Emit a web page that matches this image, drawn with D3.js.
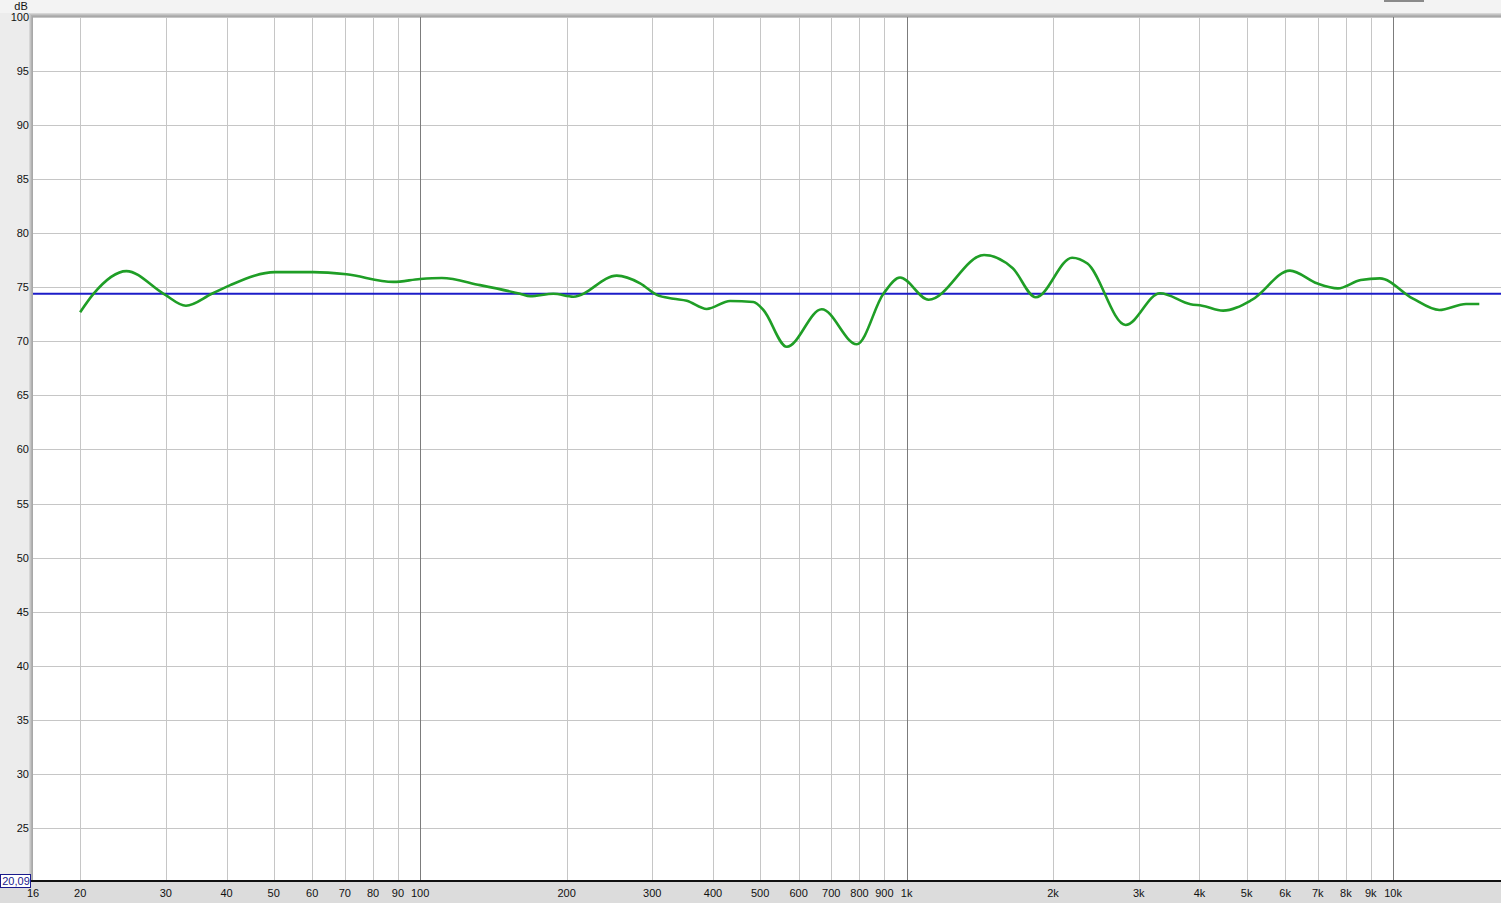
<!DOCTYPE html>
<html>
<head>
<meta charset="utf-8">
<script src="https://cdn.jsdelivr.net/npm/d3@7"></script>
<style>
  body { margin: 0; background: #ededed; }
  svg { display: block; font-family: "Liberation Sans", Arial, sans-serif; }
</style>
</head>
<body>
<div id="chart-area"></div>
<script>
// frequency response (Hz, dB)
var freqs = [20, 21.3, 24.9, 29.7, 33.0, 37.3, 40.7, 50.3, 60.3, 70.6, 88.1, 100, 110.8,
  132.8, 160.5, 168.3, 187.9, 206.5, 253.6, 283.3, 306.5, 331.6, 353.3, 388.3, 433.7,
  484.2, 507.7, 567.3, 669.2, 790, 896, 969.6, 1110, 1443, 1653, 1843, 2189, 2354,
  2820, 3318, 3835, 4050, 4473, 5125, 6139, 6971, 7702, 8583, 9394, 10965, 12446,
  14127, 15043];
var levels = [72.7, 74.4, 76.5, 74.4, 73.3, 74.4, 75.2, 76.4, 76.4, 76.2, 75.5, 75.77, 75.86,
  75.2, 74.4, 74.17, 74.4, 74.13, 76.08, 75.37, 74.3, 73.95, 73.76, 73.0, 73.74,
  73.64, 72.9, 69.5, 72.97, 69.73, 74.4, 75.9, 73.85, 77.99, 76.76, 74.08, 77.74, 77.2,
  71.52, 74.45, 73.43, 73.3, 72.84, 73.83, 76.54, 75.37, 74.9, 75.68, 75.83, 73.98, 72.9,
  73.46, 73.46];
var targetLevel = 74.4;

var dbTicks = [100, 95, 90, 85, 80, 75, 70, 65, 60, 55, 50, 45, 40, 35, 30, 25];
var freqTicks = [16, 20, 30, 40, 50, 60, 70, 80, 90, 100, 200, 300, 400, 500, 600, 700,
  800, 900, 1000, 2000, 3000, 4000, 5000, 6000, 7000, 8000, 9000, 10000];
var decadeTicks = [100, 1000, 10000];
var bottomValue = "20,09";

var width = 1501, height = 903;
var plotL = 33, plotT = 17, plotB = 881, plotR = 1501;

var svg = d3.select("#chart-area").append("svg")
  .attr("width", width)
  .attr("height", height);

var x = d3.scaleLog().domain([16, 16670]).range([plotL, plotR]);
var y = d3.scaleLinear().domain([20.09, 100]).range([plotB, plotT]);

// backgrounds
svg.append("rect").attr("x", 0).attr("y", 0).attr("width", width).attr("height", height)
  .attr("fill", "#ececec");
svg.append("rect").attr("x", 0).attr("y", 0).attr("width", width).attr("height", 13)
  .attr("fill", "#f3f3f3");
svg.append("rect").attr("x", 0).attr("y", plotB).attr("width", width).attr("height", height - plotB)
  .attr("fill", "#dcdcdc");
svg.append("rect").attr("x", 1384).attr("y", 0).attr("width", 40).attr("height", 2)
  .attr("fill", "#8a8a8a");

// sunken border on top and left
var shades = ["#d6d6d6", "#c4c4c4", "#b2b2b2", "#a8a8a8"];
shades.forEach(function(c, i){
  svg.append("rect").attr("x", plotL - 4 + i).attr("y", plotT - 4 + i)
    .attr("width", plotR - (plotL - 4 + i)).attr("height", plotB - (plotT - 4 + i))
    .attr("fill", c);
});
svg.append("rect").attr("x", plotL).attr("y", plotT)
  .attr("width", plotR - plotL).attr("height", plotB - plotT)
  .attr("fill", "white");

var g = svg.append("g");

// grid
g.selectAll(".hgrid").data(dbTicks).enter().append("line")
  .attr("x1", plotL).attr("x2", plotR)
  .attr("y1", d => Math.round(y(d)) + 0.5).attr("y2", d => Math.round(y(d)) + 0.5)
  .attr("stroke", "#c6c6c6").attr("stroke-width", 1);

g.selectAll(".vgrid").data(freqTicks.filter(d => d > 16)).enter().append("line")
  .attr("x1", d => Math.round(x(d)) + 0.5).attr("x2", d => Math.round(x(d)) + 0.5)
  .attr("y1", plotT).attr("y2", plotB)
  .attr("stroke", d => decadeTicks.indexOf(d) >= 0 ? "#7c7c7c" : "#c6c6c6")
  .attr("stroke-width", 1);

// y labels
svg.selectAll(".ylab").data(dbTicks).enter().append("text")
  .attr("x", 29).attr("y", d => y(d) + 4)
  .attr("text-anchor", "end").attr("font-size", "11px").attr("fill", "#111")
  .text(d => d);
svg.append("text").attr("x", 21).attr("y", 10).attr("text-anchor", "middle")
  .attr("font-size", "11px").attr("fill", "#111").text("dB");

// x labels
var fmt = d => d >= 1000 ? (d / 1000) + "k" : String(d);
svg.selectAll(".xlab").data(freqTicks).enter().append("text")
  .attr("x", d => x(d)).attr("y", 897)
  .attr("text-anchor", "middle").attr("font-size", "11px").attr("fill", "#111")
  .text(fmt);

// axis line
svg.append("line").attr("x1", plotL - 4).attr("x2", plotR)
  .attr("y1", plotB).attr("y2", plotB)
  .attr("stroke", "#111").attr("stroke-width", 2);

// bottom value box
svg.append("rect").attr("x", 0.5).attr("y", 874.5).attr("width", 30).attr("height", 13)
  .attr("fill", "white").attr("stroke", "#1a1a8c");
svg.append("text").attr("x", 16).attr("y", 885).attr("text-anchor", "middle")
  .attr("font-size", "11px").attr("fill", "#1a1a8c").text(bottomValue);

// target line
g.append("line").attr("x1", plotL).attr("x2", plotR)
  .attr("y1", y(targetLevel)).attr("y2", y(targetLevel))
  .attr("stroke", "#1c1cc8").attr("stroke-width", 2);

// response curve
var data = freqs.map((f, i) => ({f: f, v: levels[i]}));
var line = d3.line()
  .x(d => x(d.f))
  .y(d => y(d.v))
  .curve(d3.curveMonotoneX);

g.append("path").datum(data)
  .attr("d", line)
  .attr("fill", "none")
  .attr("stroke", "#1f9e26")
  .attr("stroke-width", 2.6);
</script>
</body>
</html>
